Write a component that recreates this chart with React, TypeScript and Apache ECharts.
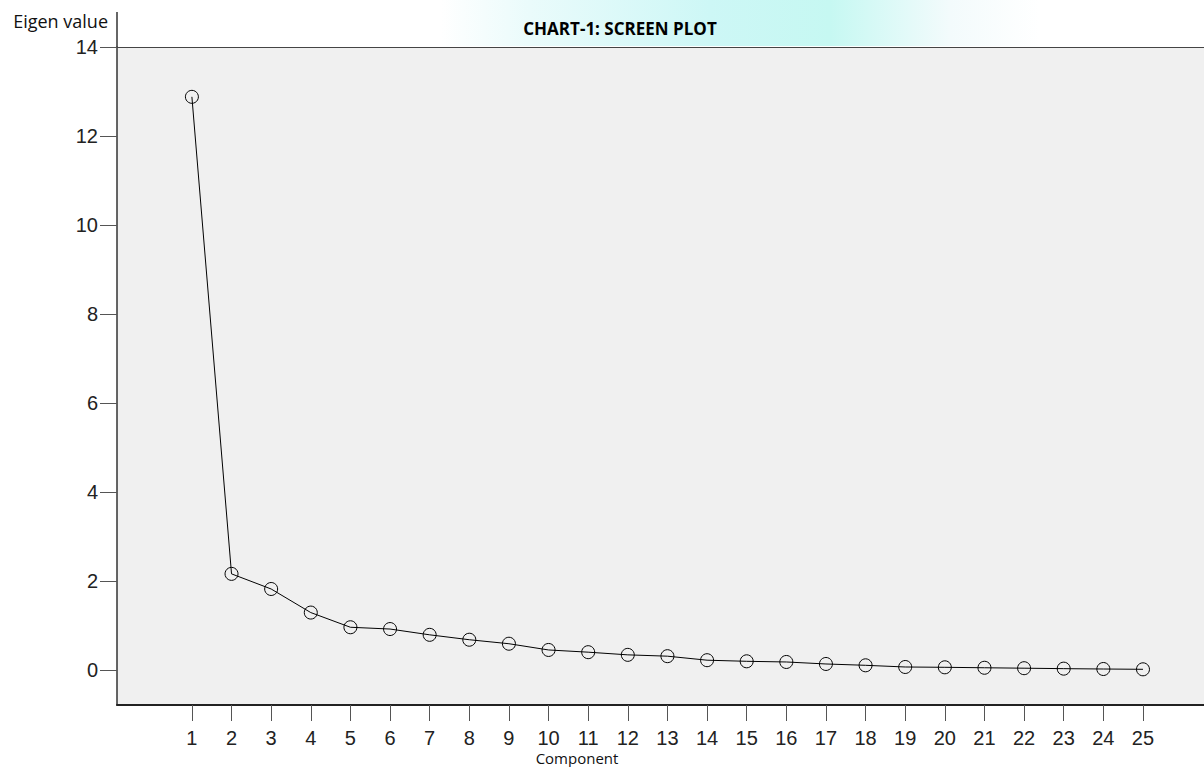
import React, { useEffect, useRef } from "react";
import * as echarts from "echarts";

const components = [1, 2, 3, 4, 5, 6, 7, 8, 9, 10, 11, 12, 13, 14, 15, 16, 17, 18, 19, 20, 21, 22, 23, 24, 25];
const eigenValues = [12.88, 2.16, 1.82, 1.29, 0.96, 0.92, 0.79, 0.68, 0.59, 0.45, 0.4, 0.34, 0.31, 0.22, 0.195, 0.18, 0.135, 0.105, 0.067, 0.06, 0.05, 0.04, 0.03, 0.022, 0.015];
const yTicks = [0, 2, 4, 6, 8, 10, 12, 14];
const xTicks = components;

export default function App() {
  const ref = useRef<HTMLDivElement>(null);
  useEffect(() => {
    const chart = echarts.init(ref.current!, null, { renderer: "svg" });
    chart.setOption({
      animation: false,
      backgroundColor: "#ffffff",
      grid: {
        left: 117,
        top: 47,
        right: 0,
        bottom: 62,
        show: true,
        backgroundColor: "#f0f0f0",
        borderWidth: 0,
      },
      graphic: [
        {
          type: "rect",
          z: -10,
          shape: { x: 440, y: 0, width: 600, height: 46 },
          style: {
            fill: {
              type: "linear",
              x: 0, y: 0, x2: 1, y2: 0,
              colorStops: [
                { offset: 0, color: "rgba(255,255,255,1)" },
                { offset: 0.15, color: "#eafbfb" },
                { offset: 0.45, color: "#cdf7f6" },
                { offset: 0.65, color: "#c6f8f2" },
                { offset: 0.85, color: "#f3fbfc" },
                { offset: 1, color: "rgba(255,255,255,1)" },
              ],
            },
          },
        },
        {
          type: "line",
          shape: { x1: 117, y1: 12, x2: 117, y2: 47 },
          style: { stroke: "#333", lineWidth: 1.5 },
        },
        {
          type: "text",
          x: 108,
          y: 21,
          style: {
            text: "Eigen value",
            font: "18px 'Open Sans'",
            fill: "#111",
            align: "right",
            verticalAlign: "middle",
          },
        },
        {
          type: "text",
          x: 620,
          y: 28,
          style: {
            text: "CHART-1: SCREEN PLOT",
            font: "bold 17px 'Open Sans'",
            fill: "#000",
            align: "center",
            verticalAlign: "middle",
          },
        },
        {
          type: "text",
          x: 577,
          y: 758,
          style: {
            text: "Component",
            font: "15px 'Open Sans'",
            lineHeight: 15,
            fill: "#111",
            align: "center",
            verticalAlign: "middle",
          },
        },
      ],
      xAxis: [
        {
          type: "value",
          min: -0.89,
          max: 26.54,
          axisLine: { show: true, onZero: false, lineStyle: { color: "#222", width: 2 } },
          axisTick: {
            show: true,
            customValues: xTicks,
            length: 16,
            lineStyle: { color: "#555", width: 1 },
          },
          axisLabel: {
            customValues: xTicks,
            margin: 23,
            fontSize: 20,
            lineHeight: 20,
            fontFamily: "Liberation Sans",
            color: "#222",
          },
          splitLine: { show: false },
        },
        {
          type: "value",
          position: "top",
          min: -0.89,
          max: 26.54,
          axisLine: { show: true, onZero: false, lineStyle: { color: "#444", width: 1 } },
          axisTick: { show: false },
          axisLabel: { show: false },
          splitLine: { show: false },
        },
      ],
      yAxis: {
        type: "value",
        min: -0.787,
        max: 14,
        axisLine: { show: true, onZero: false, lineStyle: { color: "#333", width: 1.5 } },
        axisTick: {
          show: true,
          customValues: yTicks,
          length: 17,
          lineStyle: { color: "#555", width: 1 },
        },
        axisLabel: {
          customValues: yTicks,
          margin: 19,
          fontSize: 20,
          fontFamily: "Liberation Sans",
          color: "#222",
        },
        splitLine: { show: false },
      },
      series: [
        {
          type: "line",
          data: components.map((c, i) => [c, eigenValues[i]]),
          symbol: "circle",
          symbolSize: 13,
          showSymbol: true,
          lineStyle: { color: "#000", width: 1 },
          itemStyle: { color: "rgba(0,0,0,0)", borderColor: "#000", borderWidth: 1 },
        },
      ],
    });
    return () => chart.dispose();
  }, []);
  return (
    <div
      ref={ref}
      style={{ position: "fixed", left: 0, top: 0, width: 1204, height: 767 }}
    />
  );
}
